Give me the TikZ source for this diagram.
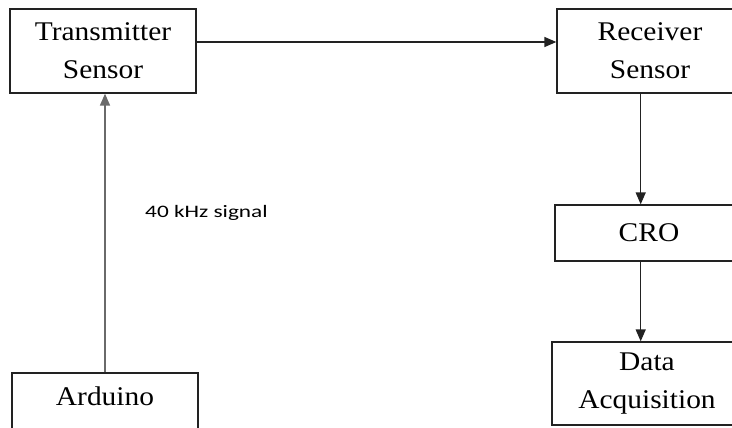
\documentclass[tikz,border=0pt]{standalone}
\usepackage{fontspec}
\setmainfont{Liberation Serif}[FakeStretch=1.09]
\newfontfamily\calib{Carlito}[FakeStretch=1.33]
\usetikzlibrary{arrows.meta,calc}
\definecolor{linec}{HTML}{222222}
\definecolor{vline}{HTML}{6A6A6A}
\tikzset{
  blk/.style={draw=linec, line width=1.3pt, rectangle, align=center, inner sep=0pt,
    font=\fontsize{27pt}{38pt}\selectfont},
  arr/.style={draw=linec, line width=1.4pt, -{Triangle[length=12pt,width=10pt]}},
}
\begin{document}
\begin{tikzpicture}[x=1pt,y=-1pt]
\useasboundingbox (0,0) rectangle (732,428);
\begin{scope}
\clip (0,0) rectangle (732,428);
\node[blk, minimum width=186pt, minimum height=84pt] (tx) at (103,51) {Transmitter\\Sensor};
\node[blk, minimum width=186pt, minimum height=84pt] (rx) at (650,51) {Receiver\\Sensor};
\node[blk, minimum width=188pt, minimum height=56pt] (cro) at (649,233) {CRO};
\node[blk, minimum width=190pt, minimum height=83pt] (daq) at (647,383.5) {Data\\Acquisition};
\node[blk, minimum width=186pt, minimum height=84pt] (ard) at (105,415) {Arduino\\~};
\coordinate (colx) at (640.7,0);
\draw[arr] ([yshift=9pt]tx.east) -- ([yshift=9pt]rx.west);
\draw[arr, draw=vline, line width=1.6pt] (ard.north) -- (ard.north |- tx.south);
\draw[arr] (colx |- rx.south) -- (colx |- cro.north);
\draw[arr] (colx |- cro.south) -- (colx |- daq.north);
\node[anchor=west, inner sep=0pt, font=\calib\fontsize{17.5pt}{20pt}\selectfont] (lbl) at (145,213) {40 kHz signal};
\end{scope}
\end{tikzpicture}
\end{document}
